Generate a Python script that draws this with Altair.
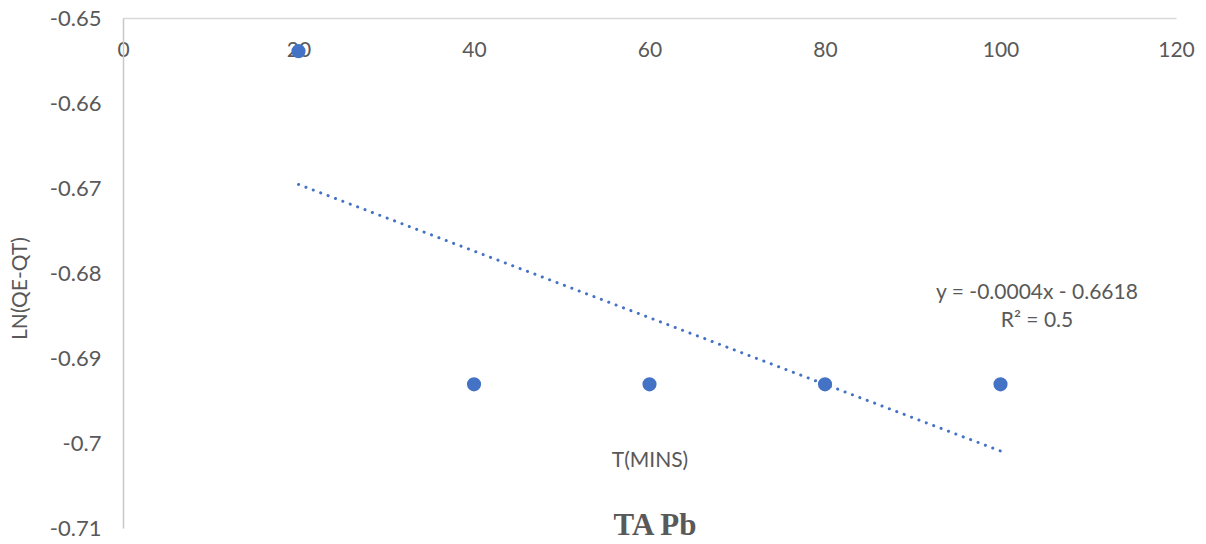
import altair as alt
import pandas as pd

t_mins = [20, 40, 60, 80, 100]
ln_qe_qt = [-0.6539, -0.6931, -0.6931, -0.6931, -0.6931]
x_ticks = [0, 20, 40, 60, 80, 100, 120]
y_ticks = [-0.65, -0.66, -0.67, -0.68, -0.69, -0.70, -0.71]
equation = ["y = -0.0004x - 0.6618", "R² = 0.5"]
chart_title = "TA Pb"

df = pd.DataFrame({"t": t_mins, "y": ln_qe_qt})

FONT = "Lato"
FS = 21
GREY = "#595959"
BLUE = "#4472c4"

x_enc = alt.X(
    "t:Q",
    scale=alt.Scale(domain=[0, 120], nice=False),
    axis=alt.Axis(
        orient="top", values=x_ticks, title="T(MINS)", grid=False, ticks=False,
        domainColor="#d9d9d9", domainWidth=1.5, labelFlush=False,
        labelFont=FONT, labelFontSize=FS, labelColor=GREY,
        labelPadding=-32, labelBaseline="middle",
        titleFont=FONT, titleFontSize=FS, titleColor=GREY, titleFontWeight="normal",
        titleY=442, titleBaseline="middle",
    ),
)
y_enc = alt.Y(
    "y:Q",
    scale=alt.Scale(domain=[-0.71, -0.65], nice=False, zero=False),
    axis=alt.Axis(
        values=y_ticks, title="LN(QE-QT)", grid=False, ticks=False,
        domainColor="#c8c8c8", domainWidth=1.5, labelFlush=False,
        labelExpr="'' + round(datum.value*100)/100",
        labelFont=FONT, labelFontSize=FS + 1, labelColor=GREY, labelPadding=22,
        titleFont=FONT, titleFontSize=FS, titleColor=GREY, titleFontWeight="normal",
        titleX=-103, titleY=270, titleAngle=270, titleAlign="center", titleBaseline="middle",
    ),
)

base = alt.Chart(df)

points = base.mark_circle(size=200, color=BLUE, opacity=1).encode(x=x_enc, y=y_enc)

trend = base.transform_regression("t", "y", extent=[20, 100]).mark_line(
    color=BLUE, strokeWidth=3, strokeDash=[0.1, 7.8], strokeCap="round"
).encode(x="t:Q", y="y:Q")

eq1 = alt.Chart(pd.DataFrame({"label": [equation[0]]})).mark_text(
    font=FONT, fontSize=FS, color=GREY, align="center", baseline="middle"
).encode(x=alt.value(914), y=alt.value(275), text="label:N")
eq2 = alt.Chart(pd.DataFrame({"label": [equation[1]]})).mark_text(
    font=FONT, fontSize=FS, color=GREY, align="center", baseline="middle"
).encode(x=alt.value(914), y=alt.value(303), text="label:N")

title = alt.Chart(pd.DataFrame({"label": [chart_title]})).mark_text(
    font="Liberation Serif", fontSize=31, fontWeight="bold", color=GREY,
    align="center", baseline="middle"
).encode(x=alt.value(532), y=alt.value(508), text="label:N")

chart = alt.layer(trend, points, eq1, eq2, title).properties(
    width=1053, height=510,
    autosize=alt.AutoSizeParams(type="none"),
    padding={"left": 123, "top": 18, "right": 30, "bottom": 16},
).configure_view(stroke=None)

chart.save("out.html", embed_options={"renderer": "svg", "actions": False})
